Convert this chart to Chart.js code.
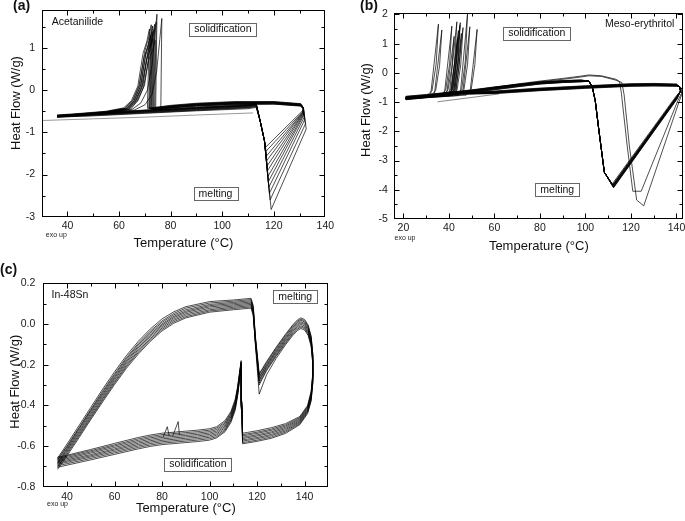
<!DOCTYPE html>
<html><head><meta charset="utf-8">
<script src="https://cdn.jsdelivr.net/npm/chart.js@4.4.0/dist/chart.umd.min.js"></script>
<style>
html,body{margin:0;padding:0;background:#fff;width:685px;height:521px;overflow:hidden;position:relative}
.p{position:absolute}
</style></head><body>
<div class="p" style="left:0;top:0"><canvas id="ca" width="340" height="260"></canvas></div>
<div class="p" style="left:340px;top:0"><canvas id="cb" width="360" height="260"></canvas></div>
<div class="p" style="left:0;top:255px"><canvas id="cc" width="340" height="266"></canvas></div>
<script>
Chart.defaults.font.family = "'Liberation Sans', Arial, sans-serif";
Chart.defaults.color = '#1a1a1a';

/* ---------- (a) Acetanilide ---------- */
const aXTicks = [40, 60, 80, 100, 120, 140];
const aYTicks = [-3, -2, -1, 0, 1];
const aHeatT = [36, 50, 70, 90, 110, 113.2];
const aHeatQ = [
 [-0.60,-0.55,-0.47,-0.40,-0.34,-0.31],[-0.61,-0.56,-0.48,-0.41,-0.35,-0.32],
 [-0.62,-0.57,-0.49,-0.42,-0.36,-0.33],[-0.60,-0.56,-0.48,-0.42,-0.36,-0.33],
 [-0.61,-0.57,-0.49,-0.43,-0.37,-0.34],[-0.62,-0.58,-0.50,-0.43,-0.37,-0.34],
 [-0.63,-0.58,-0.51,-0.44,-0.38,-0.35],[-0.61,-0.57,-0.51,-0.45,-0.39,-0.36],
 [-0.62,-0.58,-0.52,-0.46,-0.40,-0.37],[-0.63,-0.59,-0.53,-0.47,-0.41,-0.38],
 [-0.64,-0.60,-0.54,-0.48,-0.42,-0.39],[-0.64,-0.61,-0.55,-0.49,-0.44,-0.41]];
const aDropT = [114.8, 116.4];
const aDropQ = [-0.75, -1.2];
const aMinT = [119.0,118.6,118.3,118.1,117.9,117.8,117.6,117.5,117.3,117.2,117.0,116.9];
const aMinQ = [-2.83,-2.60,-2.45,-2.30,-2.17,-2.04,-1.91,-1.79,-1.67,-1.56,-1.45,-1.35];
const aRetT = [132.6,132.3,132.0,131.8,131.6,131.5,131.4,131.3,131.2,131.2,131.1,131.0];
const aRetQ = [-0.92,-0.80,-0.70,-0.64,-0.60,-0.58,-0.56,-0.55,-0.54,-0.53,-0.52,-0.50];
const aCoolT = [131.5, 130.5, 120, 105, 90, 80];
const aCoolQ = [
 [-0.42,-0.33,-0.28,-0.28,-0.32,-0.37],[-0.42,-0.32,-0.27,-0.27,-0.31,-0.36],
 [-0.41,-0.34,-0.29,-0.29,-0.33,-0.38],[-0.42,-0.33,-0.28,-0.29,-0.33,-0.38],
 [-0.43,-0.35,-0.30,-0.30,-0.34,-0.39],[-0.42,-0.34,-0.29,-0.30,-0.34,-0.39],
 [-0.43,-0.35,-0.30,-0.31,-0.35,-0.40],[-0.43,-0.36,-0.31,-0.31,-0.35,-0.40],
 [-0.44,-0.36,-0.31,-0.32,-0.36,-0.41],[-0.44,-0.37,-0.32,-0.33,-0.37,-0.41],
 [-0.45,-0.37,-0.33,-0.33,-0.37,-0.42],[-0.45,-0.38,-0.33,-0.34,-0.38,-0.42]];
const aSpikeT = [
 [71.0,71.8,70.8,69.3,67.3,64.8,61.8],[71.5,72.2,71.2,69.7,67.7,65.2,62.2],
 [71.8,72.5,71.5,70.0,68.0,65.5,62.5],[72.0,72.8,71.8,70.3,68.3,65.8,62.8],
 [72.3,73.0,72.0,70.5,68.5,66.0,63.0],[72.5,73.2,72.2,70.7,68.7,66.2,63.2],
 [72.8,73.5,72.5,71.0,69.0,66.5,63.5],[73.1,73.8,72.8,71.3,69.3,66.8,63.8],
 [73.4,74.0,73.0,71.5,69.5,67.0,64.0],[73.8,74.4,73.4,71.9,69.9,67.4,64.4],
 [74.2,74.7,73.9,72.8,71.0,68.5,65.0],[76.2,76.6,75.8,74.6,72.8,70.0,66.0]];
const aSpikeQ = [
 [-0.43,1.45,1.16,0.87,0.10,-0.25,-0.42],[-0.43,1.30,1.04,0.78,0.10,-0.25,-0.43],
 [-0.44,1.55,1.24,0.93,0.12,-0.24,-0.43],[-0.44,1.38,1.10,0.83,0.10,-0.25,-0.44],
 [-0.44,1.52,1.22,0.91,0.12,-0.24,-0.44],[-0.45,1.22,0.98,0.73,0.08,-0.26,-0.44],
 [-0.45,1.42,1.14,0.85,0.10,-0.25,-0.45],[-0.45,1.56,1.25,0.94,0.12,-0.24,-0.45],
 [-0.46,1.18,0.94,0.71,0.08,-0.26,-0.45],[-0.46,1.62,1.30,0.97,0.12,-0.24,-0.46],
 [-0.46,1.80,1.30,0.60,0.00,-0.30,-0.46],[-0.47,1.70,1.20,0.45,-0.10,-0.35,-0.47]];
const aEndT = [55, 45, 36];
const aEndQ = [
 [-0.50,-0.55,-0.59],[-0.51,-0.56,-0.60],[-0.51,-0.56,-0.61],[-0.52,-0.57,-0.60],
 [-0.52,-0.57,-0.61],[-0.52,-0.58,-0.62],[-0.53,-0.58,-0.62],[-0.53,-0.58,-0.61],
 [-0.53,-0.59,-0.62],[-0.54,-0.59,-0.63],[-0.54,-0.60,-0.63],[-0.55,-0.60,-0.64]];
const aFirstT = [30, 50, 70, 90, 112];
const aFirstQ = [-0.72, -0.68, -0.64, -0.59, -0.54];

/* ---------- (b) Meso-erythritol ---------- */
const bXTicks = [20, 40, 60, 80, 100, 120, 140];
const bYTicks = [-5, -4, -3, -2, -1, 0, 1, 2];
const bHeatT = [21, 30, 40, 50, 60, 70, 80, 90, 98];
const bHeatQ = [
 [-0.80,-0.74,-0.66,-0.58,-0.48,-0.39,-0.31,-0.26,-0.24],[-0.81,-0.75,-0.67,-0.59,-0.49,-0.40,-0.32,-0.27,-0.25],
 [-0.82,-0.76,-0.68,-0.60,-0.50,-0.40,-0.32,-0.27,-0.25],[-0.83,-0.77,-0.69,-0.61,-0.51,-0.41,-0.33,-0.28,-0.26],
 [-0.84,-0.78,-0.70,-0.62,-0.52,-0.42,-0.34,-0.29,-0.27],[-0.84,-0.78,-0.70,-0.62,-0.52,-0.42,-0.34,-0.29,-0.26],
 [-0.85,-0.79,-0.71,-0.63,-0.53,-0.43,-0.35,-0.30,-0.28],[-0.86,-0.80,-0.72,-0.64,-0.54,-0.44,-0.35,-0.30,-0.28],
 [-0.87,-0.81,-0.73,-0.65,-0.55,-0.45,-0.36,-0.31,-0.29],[-0.88,-0.82,-0.74,-0.66,-0.56,-0.46,-0.37,-0.32,-0.29],
 [-0.89,-0.83,-0.75,-0.67,-0.57,-0.47,-0.38,-0.33,-0.30],[-0.90,-0.84,-0.76,-0.68,-0.58,-0.48,-0.38,-0.33,-0.31],
 [-0.83,-0.77,-0.69,-0.60,-0.49,-0.38,-0.28,-0.19,-0.11],[-0.85,-0.79,-0.71,-0.62,-0.51,-0.40,-0.30,-0.22,-0.14]];
const bDropT = [101.5, 103.0, 104.3, 105.8, 108.3];
const bDropQ = [-0.28, -0.48, -0.95, -1.9, -3.4];
const bMinT = [111.8,111.9,112.0,112.0,112.1,112.1,112.2,112.2,112.3,112.3,112.4,112.4];
const bMinQ = [-3.80,-3.83,-3.85,-3.86,-3.88,-3.84,-3.87,-3.90,-3.89,-3.92,-3.90,-3.93];
const bRetT = [139.8,139.9,139.9,140.0,140.0,140.0,140.1,140.1,140.1,140.2,140.2,140.2];
const bRetQ = [-0.80,-0.82,-0.83,-0.84,-0.85,-0.85,-0.86,-0.87,-0.87,-0.88,-0.89,-0.90];
const bCornerT = [141.8, 141.3];
const bCornerQ = [-0.62, -0.47];
const bOut1T = [101.5,107,113.5,115.0,115.8,118.2,120.8,124.5,140.6,142.2,141.8];
const bOut1Q = [-0.07,-0.10,-0.22,-0.30,-0.70,-2.40,-4.05,-4.05,-0.95,-0.70,-0.50];
const bOut2T = [101.5,107,113,116.0,117.0,119.3,122.5,125.6,141.0,142.4,141.9];
const bOut2Q = [-0.10,-0.12,-0.24,-0.33,-0.75,-2.50,-4.35,-4.55,-1.02,-0.72,-0.50];
const bCoolT = [140, 130, 120, 100, 80, 60];
const bCoolQ = [
 [-0.38,-0.36,-0.37,-0.44,-0.52,-0.62],[-0.39,-0.37,-0.38,-0.45,-0.53,-0.63],
 [-0.40,-0.38,-0.39,-0.46,-0.54,-0.64],[-0.40,-0.39,-0.40,-0.47,-0.55,-0.65],
 [-0.41,-0.39,-0.40,-0.47,-0.55,-0.65],[-0.42,-0.40,-0.41,-0.48,-0.56,-0.66],
 [-0.42,-0.41,-0.42,-0.49,-0.57,-0.67],[-0.43,-0.41,-0.42,-0.49,-0.57,-0.67],
 [-0.44,-0.42,-0.43,-0.50,-0.58,-0.68],[-0.44,-0.43,-0.44,-0.51,-0.59,-0.69],
 [-0.45,-0.44,-0.45,-0.52,-0.60,-0.70],[-0.46,-0.45,-0.46,-0.53,-0.61,-0.71],
 [-0.41,-0.40,-0.41,-0.48,-0.56,-0.66],[-0.43,-0.42,-0.43,-0.50,-0.58,-0.68]];
const bSpikeT = [
 [32.0,35.4,34.4,32.6,30.5],[33.6,36.9,35.9,34.2,32.1],[38.0,41.3,40.3,38.6,36.5],
 [39.0,42.3,41.3,39.6,37.5],[40.2,43.5,42.5,40.8,38.7],[41.0,44.2,43.2,41.6,39.5],
 [41.6,44.8,43.8,42.2,40.1],[42.4,45.5,44.5,43.0,40.9],[43.0,46.2,45.2,43.6,41.5],
 [45.0,48.2,47.2,45.6,43.5],[46.0,49.2,48.2,46.6,44.5],[49.2,52.4,51.4,49.8,47.7],
 [40.8,43.8,42.8,41.4,39.3],[42.0,45.0,44.0,42.6,40.5]];
const bSpikeQ = [
 [-0.74,1.67,0.30,-0.60,-0.77],[-0.74,1.47,0.25,-0.60,-0.78],[-0.73,1.60,0.30,-0.58,-0.76],
 [-0.73,1.25,0.20,-0.58,-0.76],[-0.72,1.75,0.35,-0.57,-0.75],[-0.72,1.45,0.28,-0.57,-0.75],
 [-0.72,1.62,0.30,-0.57,-0.76],[-0.73,1.35,0.22,-0.58,-0.76],[-0.73,1.55,0.28,-0.58,-0.77],
 [-0.72,2.04,0.40,-0.57,-0.76],[-0.73,1.58,0.30,-0.58,-0.77],[-0.72,1.49,0.28,-0.57,-0.76],
 [-0.72,1.20,0.20,-0.57,-0.75],[-0.73,1.72,0.32,-0.58,-0.76]];
const bEndT = [30, 21];
const bEndQ = [
 [-0.79,-0.85],[-0.80,-0.86],[-0.80,-0.86],[-0.81,-0.87],[-0.81,-0.87],[-0.82,-0.88],[-0.82,-0.88],
 [-0.83,-0.89],[-0.83,-0.89],[-0.84,-0.90],[-0.85,-0.91],[-0.85,-0.92],[-0.81,-0.87],[-0.82,-0.88]];
const bStrayT = [35, 62];
const bStrayQ = [-0.99, -0.72];

/* ---------- (c) In-48Sn ---------- */
const cXTicks = [40, 60, 80, 100, 120, 140];
const cYTicks = [-0.8, -0.6, -0.4, -0.2, 0.0, 0.2];
const cHeatT = [36, 40, 45, 50, 55, 60, 65, 70, 75, 80, 85, 90, 100, 110, 117.5];
const cHeatQ = [
 [-0.66,-0.59,-0.50,-0.41,-0.32,-0.235,-0.155,-0.085,-0.025,0.025,0.06,0.085,0.11,0.118,0.126],
 [-0.665,-0.60,-0.51,-0.42,-0.33,-0.245,-0.165,-0.095,-0.035,0.015,0.052,0.078,0.103,0.112,0.12],
 [-0.67,-0.605,-0.515,-0.425,-0.337,-0.252,-0.172,-0.102,-0.042,0.008,0.045,0.07,0.096,0.106,0.114],
 [-0.68,-0.612,-0.522,-0.432,-0.345,-0.26,-0.18,-0.11,-0.05,0.0,0.038,0.063,0.09,0.10,0.108],
 [-0.685,-0.618,-0.53,-0.44,-0.352,-0.267,-0.187,-0.117,-0.057,-0.006,0.032,0.057,0.084,0.094,0.102],
 [-0.69,-0.625,-0.537,-0.448,-0.36,-0.275,-0.195,-0.125,-0.064,-0.013,0.025,0.05,0.077,0.088,0.096],
 [-0.70,-0.632,-0.545,-0.456,-0.368,-0.283,-0.203,-0.133,-0.072,-0.02,0.018,0.043,0.07,0.082,0.09],
 [-0.705,-0.64,-0.552,-0.463,-0.375,-0.29,-0.21,-0.14,-0.079,-0.027,0.011,0.036,0.064,0.076,0.084],
 [-0.715,-0.648,-0.56,-0.47,-0.383,-0.298,-0.218,-0.148,-0.086,-0.034,0.004,0.03,0.058,0.07,0.078]];
const cMeltT = [118.4,119.3,120.9,124,128,132,135,137,138.5,140,141.5,142.8,143.4,143.4,142.8,141.3];
const cMeltQ = [
 [0.09,-0.06,-0.245,-0.185,-0.115,-0.05,-0.005,0.02,0.03,0.022,-0.005,-0.06,-0.14,-0.25,-0.33,-0.40],
 [0.083,-0.065,-0.25,-0.19,-0.12,-0.055,-0.01,0.014,0.024,0.016,-0.01,-0.066,-0.146,-0.256,-0.336,-0.405],
 [0.077,-0.07,-0.26,-0.198,-0.127,-0.062,-0.017,0.008,0.018,0.01,-0.016,-0.072,-0.152,-0.262,-0.342,-0.41],
 [0.07,-0.075,-0.265,-0.204,-0.134,-0.069,-0.024,0.001,0.011,0.003,-0.023,-0.079,-0.159,-0.268,-0.348,-0.415],
 [0.064,-0.08,-0.275,-0.21,-0.14,-0.075,-0.03,-0.005,0.005,-0.003,-0.029,-0.085,-0.165,-0.274,-0.354,-0.42],
 [0.058,-0.085,-0.28,-0.217,-0.147,-0.082,-0.037,-0.012,-0.002,-0.01,-0.036,-0.092,-0.172,-0.28,-0.36,-0.425],
 [0.052,-0.09,-0.29,-0.224,-0.154,-0.089,-0.044,-0.019,-0.009,-0.017,-0.043,-0.099,-0.178,-0.286,-0.366,-0.43],
 [0.046,-0.095,-0.30,-0.23,-0.16,-0.095,-0.05,-0.025,-0.015,-0.023,-0.049,-0.105,-0.184,-0.292,-0.372,-0.435],
 [0.04,-0.10,-0.345,-0.25,-0.17,-0.102,-0.057,-0.032,-0.022,-0.03,-0.056,-0.112,-0.19,-0.298,-0.378,-0.44]];
const cCoolT = [138, 132, 126, 120, 116, 113.9];
const cCoolQ = [
 [-0.455,-0.49,-0.51,-0.525,-0.533,-0.537],[-0.46,-0.496,-0.517,-0.532,-0.54,-0.544],
 [-0.465,-0.502,-0.523,-0.538,-0.546,-0.55],[-0.47,-0.508,-0.53,-0.545,-0.553,-0.557],
 [-0.475,-0.514,-0.536,-0.551,-0.559,-0.563],[-0.48,-0.52,-0.543,-0.558,-0.566,-0.57],
 [-0.485,-0.526,-0.549,-0.564,-0.572,-0.576],[-0.49,-0.532,-0.556,-0.571,-0.579,-0.583],
 [-0.495,-0.538,-0.562,-0.577,-0.585,-0.589]];
const cSpikeT = [113.6, 113.3, 112.6, 111.8, 110.8, 109, 106.5, 103];
const cSpikeQ = [
 [-0.38,-0.18,-0.24,-0.31,-0.37,-0.43,-0.475,-0.505],
 [-0.38,-0.185,-0.245,-0.315,-0.377,-0.437,-0.482,-0.512],
 [-0.39,-0.19,-0.25,-0.32,-0.384,-0.444,-0.489,-0.519],
 [-0.39,-0.19,-0.255,-0.326,-0.39,-0.45,-0.496,-0.526],
 [-0.40,-0.195,-0.26,-0.332,-0.397,-0.457,-0.503,-0.533],
 [-0.40,-0.20,-0.265,-0.338,-0.404,-0.464,-0.51,-0.54],
 [-0.41,-0.20,-0.27,-0.344,-0.41,-0.47,-0.517,-0.547],
 [-0.41,-0.205,-0.275,-0.35,-0.417,-0.477,-0.524,-0.554],
 [-0.42,-0.21,-0.28,-0.356,-0.424,-0.484,-0.53,-0.56]];
const cEndT = [100, 95, 90, 85, 80, 75, 70, 60, 50, 40, 36];
const cEndQ = [
 [-0.515,-0.522,-0.527,-0.532,-0.537,-0.546,-0.558,-0.587,-0.617,-0.645,-0.655],
 [-0.522,-0.529,-0.534,-0.539,-0.544,-0.553,-0.565,-0.594,-0.623,-0.65,-0.66],
 [-0.529,-0.536,-0.541,-0.546,-0.551,-0.56,-0.572,-0.60,-0.629,-0.656,-0.666],
 [-0.536,-0.543,-0.548,-0.553,-0.558,-0.567,-0.579,-0.607,-0.635,-0.662,-0.672],
 [-0.543,-0.55,-0.555,-0.56,-0.565,-0.574,-0.586,-0.614,-0.642,-0.668,-0.678],
 [-0.55,-0.557,-0.562,-0.567,-0.572,-0.581,-0.593,-0.62,-0.648,-0.674,-0.684],
 [-0.557,-0.564,-0.569,-0.574,-0.579,-0.588,-0.60,-0.627,-0.654,-0.68,-0.69],
 [-0.564,-0.571,-0.576,-0.581,-0.586,-0.595,-0.607,-0.634,-0.661,-0.687,-0.697],
 [-0.571,-0.578,-0.583,-0.588,-0.593,-0.602,-0.614,-0.641,-0.668,-0.694,-0.705]];
const cBlip1T = [83, 82.2, 80.5];
const cBlip1Q = [-0.55, -0.505, -0.555];
const cBlip2T = [87.3, 86.8, 84.5];
const cBlip2Q = [-0.545, -0.48, -0.55];

/* ---------- helpers ---------- */
function P(T, Q) { return T.map((t, i) => ({x: t, y: Q[i]})); }
function line(data, color, w) {
  return {data, showLine: true, borderColor: color || '#000', borderWidth: w || 0.7,
          pointRadius: 0, tension: 0, fill: false};
}
function minors(ticks, min, max) {
  const step = ticks[1] - ticks[0], out = [];
  for (let v = ticks[0] - step / 2; v < max; v += step) {
    const r = Math.round(v * 1000) / 1000;
    if (r > min + 1e-6 && r < max - 1e-6) out.push(r);
  }
  return out;
}

const aSets = [];
for (let i = 0; i < aHeatQ.length; i++) {
  aSets.push(line([].concat(P(aHeatT, aHeatQ[i]), P(aDropT, aDropQ),
    [{x: aMinT[i], y: aMinQ[i]}, {x: aRetT[i], y: aRetQ[i]}],
    P(aCoolT, aCoolQ[i]), P(aSpikeT[i], aSpikeQ[i]), P(aEndT, aEndQ[i]))));
}
aSets.push(line(P(aFirstT, aFirstQ), '#808080', 0.8));

const bSets = [];
for (let i = 0; i < bHeatQ.length; i++) {
  let melt;
  if (i < bMinT.length) {
    melt = [].concat(P(bDropT, bDropQ), [{x: bMinT[i], y: bMinQ[i]}, {x: bRetT[i], y: bRetQ[i]}], P(bCornerT, bCornerQ));
  } else if (i === bMinT.length) {
    melt = P(bOut1T, bOut1Q);
  } else {
    melt = P(bOut2T, bOut2Q);
  }
  bSets.push(line([].concat(P(bHeatT, bHeatQ[i]), melt, P(bCoolT, bCoolQ[i]),
    P(bSpikeT[i], bSpikeQ[i]), P(bEndT, bEndQ[i]))));
}
bSets.push(line(P(bStrayT, bStrayQ), '#555', 0.7));

const cSets = [];
for (let i = 0; i < cHeatQ.length; i++) {
  cSets.push(line([].concat(P(cHeatT, cHeatQ[i]), P(cMeltT, cMeltQ[i]), P(cCoolT, cCoolQ[i]),
    P(cSpikeT, cSpikeQ[i]), P(cEndT, cEndQ[i]))));
}
cSets.push(line(P(cBlip1T, cBlip1Q)));
cSets.push(line(P(cBlip2T, cBlip2Q)));

/* ---------- decoration plugin: frame, inward ticks, texts ---------- */
const deco = {
  id: 'deco',
  afterDatasetsDraw(chart, args, o) {
    const {ctx, chartArea: a, scales: {x, y}} = chart;
    ctx.save();
    const L = Math.round(a.left) + 0.5, R = Math.round(a.right) - 0.5;
    const T = Math.round(a.top) + 0.5, B = Math.round(a.bottom) - 0.5;
    ctx.strokeStyle = '#000'; ctx.lineWidth = 1;
    ctx.strokeRect(L, T, R - L, B - T);
    ctx.beginPath();
    const tx = (v, len) => { const p = Math.round(x.getPixelForValue(v)) + 0.5;
      ctx.moveTo(p, B); ctx.lineTo(p, B - len); ctx.moveTo(p, T); ctx.lineTo(p, T + len); };
    const ty = (v, len) => { const p = Math.round(y.getPixelForValue(v)) + 0.5;
      ctx.moveTo(L, p); ctx.lineTo(L + len, p); ctx.moveTo(R, p); ctx.lineTo(R - len, p); };
    o.xTicks.forEach(v => { if (v > x.min && v < x.max) tx(v, 5); });
    o.minorX.forEach(v => tx(v, 3));
    o.yTicks.forEach(v => { if (v > y.min && v < y.max) ty(v, 5); });
    o.minorY.forEach(v => ty(v, 3));
    ctx.stroke();

    const fam = "'Liberation Sans', Arial, sans-serif";
    ctx.fillStyle = '#111';
    ctx.font = 'bold 14px ' + fam; ctx.textAlign = 'left'; ctx.textBaseline = 'middle';
    ctx.fillText(o.letter.text, o.letter.x, o.letter.y);
    ctx.save();
    ctx.translate(o.ytitle.x, o.ytitle.y); ctx.rotate(-Math.PI / 2);
    ctx.font = '13px ' + fam; ctx.textAlign = 'center'; ctx.textBaseline = 'middle';
    ctx.fillText('Heat Flow (W/g)', 0, 0);
    ctx.restore();
    ctx.font = '7px ' + fam; ctx.textAlign = 'center'; ctx.textBaseline = 'middle';
    ctx.fillStyle = '#222';
    ctx.fillText('exo up', o.exo.x, o.exo.y);
    ctx.font = '10.5px ' + fam; ctx.textBaseline = 'middle';
    o.notes.forEach(n => {
      const px = x.getPixelForValue(n.T), py = y.getPixelForValue(n.Q);
      if (n.box) {
        const w = ctx.measureText(n.text).width + 10, h = 12.5;
        ctx.fillStyle = '#fff';
        ctx.fillRect(px - w / 2, py - h / 2, w, h);
        ctx.strokeStyle = '#666'; ctx.lineWidth = 1;
        ctx.strokeRect(Math.round(px - w / 2) + 0.5, Math.round(py - h / 2) + 0.5, Math.round(w), Math.round(h));
        ctx.fillStyle = '#111'; ctx.textAlign = 'center';
        ctx.fillText(n.text, px, py + 0.5);
      } else {
        ctx.fillStyle = '#111'; ctx.textAlign = n.align;
        ctx.fillText(n.text, px, py);
      }
    });
    ctx.restore();
  }
};

function makeChart(id, c) {
  return new Chart(document.getElementById(id), {
    type: 'scatter',
    data: {datasets: c.sets},
    options: {
      responsive: false, animation: false, events: [],
      layout: {padding: {left: 0, top: c.padT, right: c.padR, bottom: 0}},
      plugins: {
        legend: {display: false}, tooltip: {enabled: false},
        deco: {xTicks: c.xTicks, yTicks: c.yTicks,
               minorX: minors(c.xTicks, c.xMin, c.xMax), minorY: minors(c.yTicks, c.yMin, c.yMax),
               letter: c.letter, ytitle: c.ytitle, exo: c.exo, notes: c.notes}
      },
      scales: {
        x: {type: 'linear', position: 'bottom', min: c.xMin, max: c.xMax,
            grid: {display: false, drawTicks: false}, border: {display: false},
            ticks: {padding: c.xLabPad, maxRotation: 0, minRotation: 0, autoSkip: false,
                    font: {size: 10.5}, color: '#1a1a1a', callback: v => String(v)},
            afterBuildTicks: s => { s.ticks = c.xTicks.map(v => ({value: v})); },
            afterFit: s => { s.height = c.xH; s.paddingLeft = 0; s.paddingRight = 0; },
            title: {display: true, text: 'Temperature (°C)', font: {size: 13}, color: '#111',
                    padding: {top: 0, bottom: c.xTitlePad}}},
        y: {type: 'linear', position: 'left', min: c.yMin, max: c.yMax,
            grid: {display: false, drawTicks: false}, border: {display: false},
            ticks: {padding: c.yLabPad, font: {size: 10.5}, color: '#1a1a1a', callback: c.yFmt},
            afterBuildTicks: s => { s.ticks = c.yTicks.map(v => ({value: v})); },
            afterFit: s => { s.width = c.yW; s.paddingTop = 0; s.paddingBottom = 0; }}
      }
    },
    plugins: [deco]
  });
}

makeChart('ca', {
  sets: aSets, xTicks: aXTicks, yTicks: aYTicks, xMin: 30, xMax: 140, yMin: -3, yMax: 1.9,
  padT: 10, padR: 14.7, yW: 41.7, xH: 43.3, xLabPad: 3, yLabPad: 6.5, xTitlePad: 9.2,
  yFmt: v => String(v),
  letter: {text: '(a)', x: 13, y: 6}, ytitle: {x: 16.7, y: 103}, exo: {x: 56.3, y: 235.5},
  notes: [{text: 'Acetanilide', T: 33.9, Q: 1.62, align: 'left'},
          {text: 'solidification', T: 100.3, Q: 1.45, box: true},
          {text: 'melting', T: 97.4, Q: -2.45, box: true}]
});
makeChart('cb', {
  sets: bSets, xTicks: bXTicks, yTicks: bYTicks, xMin: 16, xMax: 143, yMin: -5, yMax: 2.06,
  padT: 12.7, padR: 16.7, yW: 54.3, xH: 41, xLabPad: 3, yLabPad: 6.5, xTitlePad: 6.2,
  yFmt: v => String(v),
  letter: {text: '(b)', x: 20, y: 6}, ytitle: {x: 26.7, y: 110}, exo: {x: 65, y: 238.5},
  notes: [{text: 'Meso-erythritol', T: 139.1, Q: 1.655, align: 'right'},
          {text: 'solidification', T: 78.6, Q: 1.37, box: true},
          {text: 'melting', T: 87.6, Q: -3.99, box: true}]
});
makeChart('cc', {
  sets: cSets, xTicks: cXTicks, yTicks: cYTicks, xMin: 30, xMax: 150, yMin: -0.8, yMax: 0.2,
  padT: 28.3, padR: 11.7, yW: 43.3, xH: 34.3, xLabPad: 4.5, yLabPad: 8, xTitlePad: 4.7,
  yFmt: v => v.toFixed(1),
  letter: {text: '(c)', x: 0, y: 15}, ytitle: {x: 15, y: 126.7}, exo: {x: 57.5, y: 248.7},
  notes: [{text: 'In-48Sn', T: 33.5, Q: 0.14, align: 'left'},
          {text: 'melting', T: 136.1, Q: 0.135, box: true},
          {text: 'solidification', T: 95.1, Q: -0.688, box: true}]
});
</script>
</body></html>
